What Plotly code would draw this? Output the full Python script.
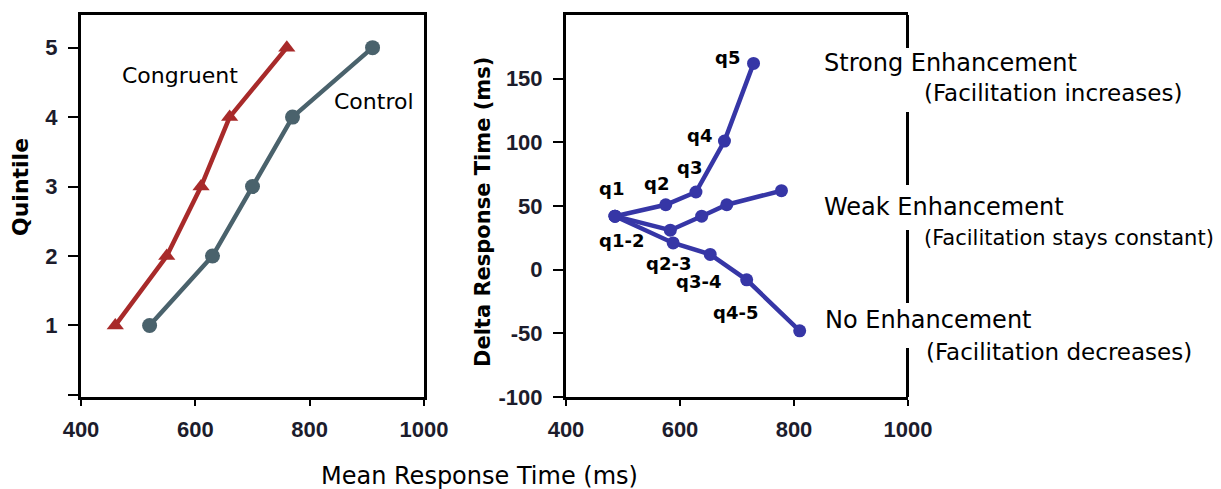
import plotly.graph_objects as go

W, H = 1221, 489

# ---- left panel: quintile RT curves ----
quintiles = [1, 2, 3, 4, 5]
congruent_rt = [460, 550, 610, 660, 760]
control_rt = [520, 630, 700, 770, 910]

# ---- right panel: delta plot (facilitation vs mean RT) ----
strong_rt = [486, 575, 628, 678, 729]
strong_delta = [42, 51, 61, 101, 162]
weak_rt = [486, 583, 638, 682, 778]
weak_delta = [42, 31, 42, 51, 62]
none_rt = [486, 588, 653, 717, 810]
none_delta = [42, 21, 12, -8, -48]

x_ticks = [400, 600, 800, 1000]
quintile_ticks = [0, 1, 2, 3, 4, 5]
quintile_ticktext = ["", "1", "2", "3", "4", "5"]
delta_ticks = [-100, -50, 0, 50, 100, 150]
delta_ticktext = ["-100", "-50", "0", "50", "100", "150"]

q_labels = ["q1", "q2", "q3", "q4", "q5", "q1-2", "q2-3", "q3-4", "q4-5"]
q_label_pos = [(480, 64), (559, 68), (617, 80), (635, 105), (684, 167),
               (498, 23), (579, 5), (633, -9), (697, -34)]

RED = "#a82a2a"
SLATE = "#4a626c"
BLUE = "#3636a6"
TICK_COLOR = "#1c1c2c"


def px(x):
    return x / W


def py(y):
    return 1 - y / H


fig = go.Figure()

fig.add_trace(go.Scatter(
    x=congruent_rt, y=quintiles, mode="lines+markers",
    line=dict(color=RED, width=4.5),
    marker=dict(symbol="triangle-up", size=15, color=RED),
    xaxis="x", yaxis="y", showlegend=False))
fig.add_trace(go.Scatter(
    x=control_rt, y=quintiles, mode="lines+markers",
    line=dict(color=SLATE, width=4.5),
    marker=dict(symbol="circle", size=15, color=SLATE),
    xaxis="x", yaxis="y", showlegend=False))

for xs, ys in [(weak_rt, weak_delta), (none_rt, none_delta), (strong_rt, strong_delta)]:
    fig.add_trace(go.Scatter(
        x=xs, y=ys, mode="lines+markers",
        line=dict(color=BLUE, width=4.5),
        marker=dict(symbol="circle", size=13, color=BLUE),
        xaxis="x2", yaxis="y2", showlegend=False))

tickfont = dict(family="Liberation Sans", size=22, color=TICK_COLOR, weight="bold")
axis_common = dict(showline=True, linecolor="black", linewidth=3, showgrid=False,
                   zeroline=False, ticks="outside", tickcolor="black", tickwidth=2,
                   tickfont=tickfont, automargin=False)

left_dom = [px(81), px(424)]
right_dom = [px(566), px(908)]
y_dom = [py(397), py(15)]

fig.update_layout(
    width=W, height=H,
    margin=dict(l=0, r=0, t=0, b=0, autoexpand=False),
    paper_bgcolor="white", plot_bgcolor="white",
    xaxis=dict(domain=left_dom, range=[400, 1000], tickvals=x_ticks, ticklen=6,
               mirror=True, anchor="y", ticklabelstandoff=5, **axis_common),
    yaxis=dict(domain=y_dom, range=[-0.03, 5.47], tickvals=quintile_ticks,
               ticktext=quintile_ticktext, ticklen=10, mirror=True, anchor="x",
               ticklabelstandoff=6, **axis_common),
    xaxis2=dict(domain=right_dom, range=[400, 1000], tickvals=x_ticks, ticklen=6,
                mirror=True, anchor="y2", ticklabelstandoff=5, **axis_common),
    yaxis2=dict(domain=y_dom, range=[-100, 200], tickvals=delta_ticks,
                ticktext=delta_ticktext, ticklen=10, mirror=False, anchor="x2",
                ticklabelstandoff=6, **axis_common),
)

# right edge of the delta plot, broken where the category labels sit
for y0, y1 in [(15, 48), (112, 185), (230, 303), (348, 397)]:
    fig.add_shape(type="line", xref="paper", yref="paper",
                  x0=px(907.5), x1=px(907.5), y0=py(y0), y1=py(y1),
                  line=dict(color="black", width=3))

anns = []
text_font = dict(family="DejaVu Sans", color="black")

anns.append(dict(text="Congruent", x=573, y=4.6, xref="x", yref="y",
                 showarrow=False, font=dict(size=22, **text_font)))
anns.append(dict(text="Control", x=912, y=4.23, xref="x", yref="y",
                 showarrow=False, font=dict(size=22, **text_font)))

for lab, (lx, ly) in zip(q_labels, q_label_pos):
    anns.append(dict(text=lab, x=lx, y=ly, xref="x2", yref="y2", showarrow=False,
                     font=dict(family="DejaVu Sans", size=18, color="black", weight="bold")))

side_labels = [
    ("Strong Enhancement", 822, 63, 24),
    ("(Facilitation increases)", 922, 93, 23),
    ("Weak Enhancement", 822, 207, 24),
    ("(Facilitation stays constant)", 922, 238, 21),
    ("No Enhancement", 823, 320, 24),
    ("(Facilitation decreases)", 924, 352, 23),
]
for txt, lx, ly, sz in side_labels:
    anns.append(dict(text=txt, x=px(lx), y=py(ly), xref="paper", yref="paper",
                     xanchor="left", yanchor="middle", showarrow=False,
                     font=dict(size=sz, **text_font)))

anns.append(dict(text="Mean Response Time (ms)", x=px(479), y=py(476),
                 xref="paper", yref="paper", xanchor="center", yanchor="middle",
                 showarrow=False, font=dict(size=24, **text_font)))
anns.append(dict(text="Quintile", x=px(20), y=py(187), xref="paper", yref="paper",
                 xanchor="center", yanchor="middle", textangle=-90, showarrow=False,
                 font=dict(family="DejaVu Sans", size=22, color="black", weight="bold")))
anns.append(dict(text="Delta Response Time (ms)", x=px(483), y=py(212),
                 xref="paper", yref="paper", xanchor="center", yanchor="middle",
                 textangle=-90, showarrow=False,
                 font=dict(family="DejaVu Sans", size=21, color="black", weight="bold")))

fig.update_layout(annotations=anns)

fig.write_html("out.html")
